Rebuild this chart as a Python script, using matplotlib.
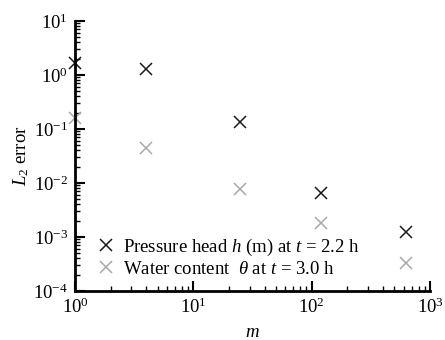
import numpy as np
import matplotlib
matplotlib.use("Agg")
import matplotlib.pyplot as plt

plt.rcParams['font.family'] = ['Liberation Serif', 'DejaVu Serif']
plt.rcParams['mathtext.fontset'] = 'custom'
plt.rcParams['mathtext.rm'] = 'Liberation Serif'
plt.rcParams['mathtext.it'] = 'Liberation Serif:italic'
plt.rcParams['mathtext.bf'] = 'Liberation Serif:bold'
plt.rcParams['axes.unicode_minus'] = False

# number of sub-domains and L2 errors
m = [1, 4, 25, 121, 625]
err_h = [1.69, 1.28, 0.135, 0.0066, 0.00126]
err_theta = [0.158, 0.044, 0.0078, 0.0018, 0.00033]

label_h = r"Pressure head $h$ (m) at $t$ = 2.2 h"
label_theta = r"Water content  $\theta$ at $t$ = 3.0 h"

fig = plt.figure(figsize=(4.45, 3.4), dpi=100)
ax = fig.add_axes([75 / 445, 49 / 340, 355 / 445, 270 / 340])

ax.plot(m, err_h, 'x', color='#1a1a1a', ms=8.5, mew=1.1, clip_on=False, label=label_h)
ax.plot(m, err_theta, 'x', color='#a8a8a8', ms=8.5, mew=1.1, clip_on=False, label=label_theta)

ax.set_xscale('log')
ax.set_yscale('log')
ax.set_xlim(1, 1000)
ax.set_ylim(1e-4, 10)

for s in ['top', 'right']:
    ax.spines[s].set_visible(False)
for s in ['left', 'bottom']:
    ax.spines[s].set_linewidth(2.0)

ax.tick_params(which='major', direction='in', length=7, width=1.5, labelsize=13.5, pad=5)
ax.tick_params(which='minor', direction='in', length=3.5, width=1.0)
ax.yaxis.set_minor_locator(matplotlib.ticker.LogLocator(base=10, subs=np.arange(2, 10), numticks=20))
ax.xaxis.set_minor_locator(matplotlib.ticker.LogLocator(base=10, subs=np.arange(2, 10), numticks=20))

ax.set_xlabel(r"$m$", fontsize=13.5, labelpad=5)
ax.set_ylabel(r"$L_2$ error", fontsize=13.5, labelpad=2)

ax.legend(loc='lower left', frameon=False, fontsize=13.5, handlelength=0.8,
          handletextpad=0.5, borderaxespad=0.3, labelspacing=0.15,
          bbox_to_anchor=(0.03, 0.0))

fig.savefig("out.png", dpi=100)
